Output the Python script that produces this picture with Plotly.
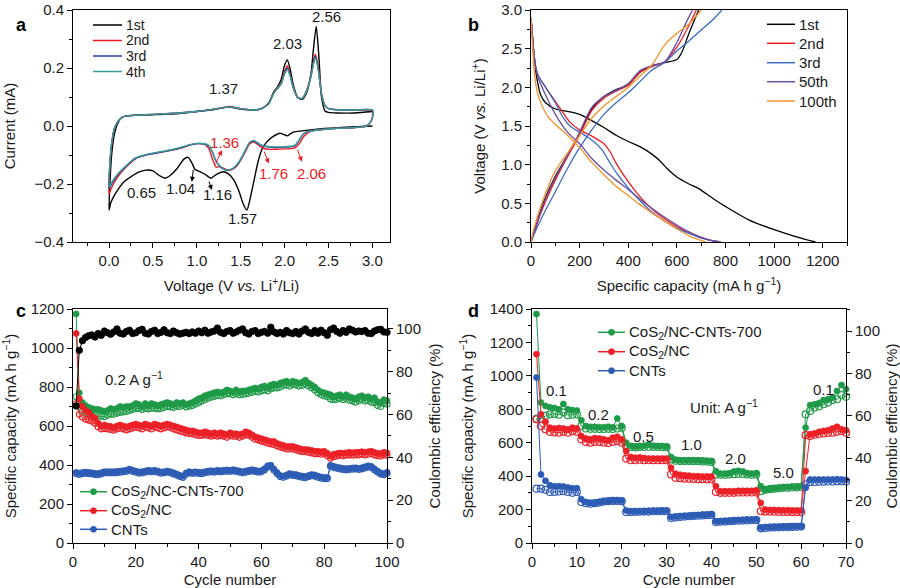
import plotly.graph_objects as go

# ---------------- Panel a: CV curves ----------------
cv1_v = [3.0, 2.7, 2.4, 2.2, 2.1, 2.06, 2.03, 1.95, 1.85, 1.8, 1.75, 1.7, 1.65, 1.6, 1.57, 1.53, 1.48, 1.42, 1.36, 1.3,
         1.22, 1.16, 1.1, 1.04, 0.98, 0.94, 0.9, 0.85, 0.78, 0.7, 0.64, 0.58, 0.5, 0.42, 0.33, 0.25, 0.18, 0.1, 0.05, 0.02, 0.0,
         0.01, 0.03, 0.06, 0.1, 0.15, 0.2, 0.3, 0.5, 0.8, 1.0, 1.2, 1.37, 1.5, 1.65, 1.75, 1.82, 1.88, 1.92, 1.96, 2.0,
         2.03, 2.06, 2.1, 2.15, 2.2, 2.25, 2.3, 2.33, 2.36, 2.39, 2.42, 2.46, 2.5, 2.6, 2.8, 3.0]
cv1_i = [0.0, -0.004, -0.01, -0.017, -0.021, -0.028, -0.034, -0.025, -0.04, -0.054, -0.075, -0.12, -0.19, -0.26, -0.29, -0.27,
         -0.225, -0.186, -0.165, -0.158, -0.168, -0.18, -0.168, -0.158, -0.15, -0.125, -0.108, -0.115, -0.145, -0.17, -0.18,
         -0.172, -0.155, -0.152, -0.16, -0.175, -0.19, -0.22, -0.245, -0.265, -0.29,
         -0.2, -0.1, -0.03, 0.01, 0.03, 0.035, 0.037, 0.039, 0.043, 0.05, 0.057, 0.065, 0.058, 0.055, 0.062, 0.08, 0.12, 0.135,
         0.16, 0.21, 0.228, 0.2, 0.14, 0.098, 0.092, 0.115, 0.18, 0.27, 0.343, 0.24, 0.1, 0.052, 0.047, 0.045, 0.045, 0.05]

cv_v = [3.0, 3.0, 2.97, 2.93, 2.88, 2.8, 2.6, 2.4, 2.3, 2.22, 2.17, 2.13, 2.1, 2.06, 2.0, 1.9, 1.8, 1.72, 1.65, 1.6, 1.55,
        1.5, 1.45, 1.4, 1.36, 1.32, 1.27, 1.22, 1.18, 1.14, 1.1, 1.0, 0.9, 0.8, 0.6, 0.45, 0.3, 0.2, 0.1, 0.05, 0.02, 0.0,
        0.01, 0.03, 0.06, 0.1, 0.15, 0.2, 0.3, 0.5, 0.8, 1.0, 1.2, 1.37, 1.5, 1.65, 1.75, 1.82, 1.88, 1.92, 1.96, 2.0,
        2.03, 2.06, 2.1, 2.15, 2.2, 2.25, 2.3, 2.33, 2.35, 2.38, 2.42, 2.46, 2.5, 2.6, 2.8, 3.0]
cv2_i = [0.055, 0.03, 0.01, 0.0, -0.003, -0.005, -0.008, -0.013, -0.018, -0.035, -0.06, -0.072, -0.077, -0.078, -0.079,
         -0.08, -0.08, -0.07, -0.055, -0.062, -0.09, -0.118, -0.14, -0.15, -0.152, -0.148, -0.14, -0.142, -0.115, -0.08,
         -0.065, -0.06, -0.068, -0.078, -0.09, -0.098, -0.113, -0.14, -0.175, -0.2, -0.22, -0.235,
         -0.14, -0.065, -0.012, 0.015, 0.03, 0.035, 0.037, 0.04, 0.045, 0.05, 0.058, 0.067, 0.06, 0.055, 0.062, 0.078,
         0.117, 0.132, 0.148, 0.19, 0.208, 0.182, 0.132, 0.098, 0.095, 0.122, 0.175, 0.225, 0.248, 0.21, 0.112, 0.07,
         0.06, 0.056, 0.055, 0.056]
cv3_i = [0.055, 0.03, 0.01, 0.0, -0.003, -0.005, -0.008, -0.013, -0.017, -0.026, -0.047, -0.065, -0.07, -0.072, -0.073,
         -0.074, -0.072, -0.065, -0.052, -0.058, -0.087, -0.115, -0.137, -0.149, -0.153, -0.151, -0.142, -0.122, -0.092,
         -0.07, -0.063, -0.061, -0.067, -0.077, -0.09, -0.098, -0.112, -0.138, -0.168, -0.19, -0.205, -0.215,
         -0.132, -0.06, -0.01, 0.015, 0.03, 0.035, 0.037, 0.04, 0.045, 0.05, 0.058, 0.066, 0.06, 0.055, 0.062, 0.078,
         0.115, 0.13, 0.145, 0.183, 0.2, 0.178, 0.13, 0.097, 0.095, 0.12, 0.172, 0.22, 0.24, 0.203, 0.11, 0.07,
         0.06, 0.056, 0.055, 0.055]
cv4_i = [0.055, 0.03, 0.01, 0.0, -0.003, -0.005, -0.008, -0.013, -0.017, -0.025, -0.045, -0.063, -0.068, -0.07, -0.071,
         -0.072, -0.07, -0.063, -0.05, -0.057, -0.085, -0.113, -0.135, -0.148, -0.152, -0.15, -0.14, -0.12, -0.09,
         -0.068, -0.062, -0.06, -0.066, -0.075, -0.088, -0.096, -0.11, -0.135, -0.165, -0.185, -0.2, -0.21,
         -0.13, -0.06, -0.01, 0.015, 0.03, 0.035, 0.037, 0.04, 0.045, 0.05, 0.058, 0.066, 0.06, 0.055, 0.062, 0.078,
         0.115, 0.13, 0.145, 0.18, 0.195, 0.175, 0.13, 0.097, 0.095, 0.12, 0.17, 0.215, 0.235, 0.2, 0.11, 0.07,
         0.06, 0.056, 0.055, 0.055]
cv_names = ["1st", "2nd", "3rd", "4th"]

# ---------------- Panel b: charge / discharge ----------------
b1_dis_c = [0, 5, 10, 18, 25, 40, 60, 100, 150, 200, 250, 300, 350, 400, 450, 500, 530, 560, 600, 650, 690, 750, 800, 900, 1000, 1100, 1170]
b1_dis_v = [2.9, 2.7, 2.5, 2.25, 2.1, 1.9, 1.8, 1.72, 1.69, 1.65, 1.57, 1.48, 1.38, 1.3, 1.23, 1.13, 1.05, 0.95, 0.84, 0.75, 0.69, 0.56, 0.46, 0.28, 0.16, 0.06, 0.0]
b1_ch_c = [0, 10, 50, 100, 150, 200, 250, 300, 350, 400, 450, 500, 550, 600, 620, 650, 690]
b1_ch_v = [0.0, 0.1, 0.5, 0.85, 1.12, 1.4, 1.72, 1.88, 1.97, 2.03, 2.2, 2.28, 2.32, 2.36, 2.45, 2.7, 3.0]
b2_dis_c = [0, 5, 10, 20, 30, 60, 100, 130, 160, 200, 250, 300, 325, 350, 400, 450, 500, 550, 600, 650, 700, 740, 780]
b2_dis_v = [2.9, 2.7, 2.5, 2.25, 2.15, 2.0, 1.82, 1.68, 1.55, 1.45, 1.37, 1.27, 1.17, 1.02, 0.78, 0.58, 0.42, 0.3, 0.2, 0.12, 0.06, 0.02, 0.0]
b2_ch_c = [0, 10, 50, 100, 150, 200, 250, 300, 350, 400, 450, 500, 550, 600, 650, 680]
b2_ch_v = [0.0, 0.1, 0.45, 0.8, 1.1, 1.38, 1.7, 1.86, 1.95, 2.03, 2.2, 2.27, 2.33, 2.52, 2.8, 3.0]
b3_dis_c = [0, 5, 10, 20, 30, 60, 100, 130, 160, 200, 250, 290, 320, 350, 400, 450, 500, 550, 600, 650, 700, 740, 780]
b3_dis_v = [2.9, 2.7, 2.5, 2.25, 2.15, 2.0, 1.8, 1.62, 1.5, 1.42, 1.32, 1.2, 1.05, 0.9, 0.7, 0.53, 0.38, 0.27, 0.18, 0.11, 0.05, 0.02, 0.0]
b3_ch_c = [0, 10, 50, 100, 150, 200, 250, 300, 350, 400, 450, 500, 550, 600, 650, 700, 750, 785]
b3_ch_v = [0.0, 0.08, 0.35, 0.65, 0.95, 1.22, 1.45, 1.65, 1.8, 1.93, 2.08, 2.23, 2.32, 2.47, 2.6, 2.74, 2.88, 3.0]
b50_dis_c = [0, 5, 10, 20, 30, 60, 100, 150, 200, 250, 300, 350, 400, 450, 500, 550, 600, 650, 700, 740, 780]
b50_dis_v = [2.9, 2.7, 2.5, 2.25, 2.12, 1.9, 1.65, 1.42, 1.27, 1.08, 0.93, 0.8, 0.68, 0.55, 0.43, 0.32, 0.22, 0.13, 0.06, 0.02, 0.0]
b50_ch_c = [0, 10, 50, 100, 150, 200, 250, 300, 350, 400, 450, 500, 550, 600, 640, 665]
b50_ch_v = [0.0, 0.1, 0.48, 0.83, 1.12, 1.42, 1.74, 1.88, 1.96, 2.05, 2.22, 2.28, 2.33, 2.58, 2.85, 3.0]
b100_dis_c = [0, 5, 10, 15, 25, 40, 70, 100, 150, 200, 250, 300, 350, 400, 450, 500, 550, 600, 650, 690, 720]
b100_dis_v = [2.9, 2.6, 2.35, 2.15, 1.95, 1.8, 1.62, 1.52, 1.38, 1.22, 1.03, 0.87, 0.72, 0.6, 0.48, 0.37, 0.27, 0.17, 0.08, 0.03, 0.0]
b100_ch_c = [0, 10, 50, 100, 150, 200, 250, 300, 350, 400, 450, 500, 550, 600, 650, 700]
b100_ch_v = [0.0, 0.15, 0.55, 0.92, 1.15, 1.38, 1.6, 1.76, 1.88, 2.0, 2.15, 2.3, 2.55, 2.7, 2.82, 3.0]
b_names = ["1st", "2nd", "3rd", "50th", "100th"]

# ---------------- Panel c: cycling at 0.2 A/g ----------------
c_cycles = list(range(1, 101))
c_green_dis = [1175, 770, 720, 705, 695, 690, 685, 685, 680, 675, 680, 690, 685, 690, 700, 695, 700, 700, 705, 715,
               710, 700, 715, 705, 715, 710, 705, 710, 715, 720, 715, 710, 720, 715, 720, 710, 715, 720, 730, 740,
               745, 755, 760, 765, 770, 775, 770, 775, 785, 780, 775, 785, 775, 780, 780, 785, 790, 795, 790, 800,
               805, 795, 810, 815, 810, 820, 825, 830, 820, 830, 825, 820, 825, 835, 820, 810, 800, 785, 775, 770,
               765, 760, 750, 755, 760, 750, 760, 750, 745, 740, 750, 755, 745, 750, 740, 745, 725, 720, 735, 730]
c_green_ch = [750, 700, 675, 665, 660, 655, 655, 650, 650, 648, 655, 660, 660, 665, 670, 672, 675, 680, 685, 690,
              690, 685, 690, 688, 692, 690, 688, 690, 695, 700, 698, 695, 700, 700, 705, 698, 702, 705, 712, 720,
              728, 735, 742, 748, 752, 758, 755, 760, 765, 765, 760, 765, 760, 762, 765, 768, 772, 778, 775, 780,
              785, 780, 790, 795, 795, 800, 808, 810, 805, 812, 810, 805, 808, 815, 805, 795, 785, 770, 760, 755,
              750, 738, 735, 738, 742, 735, 740, 732, 728, 722, 730, 735, 728, 730, 722, 720, 705, 700, 715, 712]
c_red_dis = [1075, 740, 700, 680, 670, 650, 640, 615, 600, 605, 600, 598, 590, 600, 605, 600, 595, 600, 605, 610,
             605, 600, 610, 605, 600, 610, 605, 600, 605, 610, 605, 600, 595, 590, 585, 580, 575, 575, 570, 565,
             565, 570, 565, 560, 565, 560, 565, 560, 555, 565, 560, 560, 555, 560, 570, 565, 555, 545, 540, 535,
             530, 525, 520, 520, 510, 505, 500, 495, 495, 495, 490, 485, 480, 480, 478, 475, 470, 470, 468, 470,
             460, 445, 455, 458, 462, 460, 462, 465, 462, 465, 465, 468, 465, 468, 470, 465, 460, 458, 465, 462]
c_red_ch = [715, 660, 645, 635, 630, 625, 615, 595, 585, 588, 585, 582, 578, 585, 590, 585, 580, 585, 590, 595,
            590, 585, 595, 590, 585, 595, 590, 585, 590, 595, 592, 585, 580, 575, 570, 565, 562, 560, 555, 552,
            552, 556, 552, 548, 552, 548, 552, 548, 542, 550, 548, 548, 542, 548, 555, 552, 542, 532, 528, 522,
            518, 512, 508, 505, 498, 492, 488, 482, 482, 482, 478, 472, 468, 468, 465, 462, 458, 458, 455, 458,
            448, 435, 443, 446, 450, 448, 450, 452, 450, 452, 452, 455, 452, 455, 458, 452, 448, 446, 452, 450]
c_blue_dis = [362, 358, 362, 364, 362, 360, 357, 356, 360, 366, 366, 366, 366, 367, 369, 371, 373, 379, 373, 369,
              364, 366, 369, 373, 371, 373, 369, 364, 366, 369, 366, 360, 354, 347, 342, 359, 366, 363, 365, 363,
              362, 366, 369, 371, 369, 373, 371, 373, 375, 373, 376, 373, 369, 366, 369, 373, 376, 373, 369, 371,
              381, 396, 399, 379, 361, 346, 343, 349, 356, 353, 351, 346, 343, 341, 346, 351, 349, 343, 339, 336,
              336, 399, 393, 389, 386, 383, 381, 383, 385, 386, 383, 386, 391, 396, 393, 381, 369, 359, 356, 363]
c_blue_ch = [355, 352, 356, 358, 356, 354, 351, 350, 354, 360, 360, 360, 360, 361, 363, 365, 367, 373, 367, 363,
             358, 360, 363, 367, 365, 367, 363, 358, 360, 363, 360, 354, 348, 341, 336, 353, 360, 357, 359, 357,
             356, 360, 363, 365, 363, 367, 365, 367, 369, 367, 370, 367, 363, 360, 363, 367, 370, 367, 363, 365,
             375, 390, 393, 373, 355, 340, 337, 343, 350, 347, 345, 340, 337, 335, 340, 345, 343, 337, 333, 330,
             330, 393, 387, 383, 380, 377, 375, 377, 379, 380, 377, 380, 385, 390, 387, 375, 363, 353, 350, 357]
c_ce = [64.0, 90.0, 94.5, 96.0, 96.8, 97.2, 96.2, 97.8, 97.0, 99.0, 98.2, 97.5, 98.6, 100.0, 98.0, 97.6, 98.8, 99.4, 97.8, 98.2,
        99.2, 99.8, 98.0, 97.6, 98.8, 99.4, 97.8, 98.4, 99.6, 98.2, 97.8, 99.0, 98.2, 97.6, 98.0, 98.4, 97.8, 98.6, 98.0, 99.0,
        98.2, 99.4, 98.0, 98.6, 99.0, 100.4, 98.4, 97.8, 98.8, 99.2, 98.0, 98.6, 99.4, 100.0, 98.2, 97.6, 98.8, 99.2, 97.8, 98.4,
        98.8, 98.0, 100.8, 98.6, 97.8, 98.4, 97.6, 99.2, 98.2, 97.8, 98.8, 97.6, 99.0, 100.0, 98.4, 97.8, 99.2, 98.0, 99.4, 98.2,
        97.0, 99.6, 100.4, 98.8, 98.0, 99.2, 98.4, 100.0, 99.4, 98.6, 99.0, 98.8, 99.2, 98.0, 97.8, 99.0, 99.6, 99.8, 98.6, 98.4]

# ---------------- Panel d: rate capability ----------------
d_cycles = list(range(1, 71))
d_green_dis = [1370, 840, 820, 812, 808, 800, 832, 800, 795, 792, 735, 700, 695, 695, 693, 693, 695, 692, 745, 700,
               600, 580, 578, 580, 582, 590, 582, 580, 580, 578, 515, 498, 495, 495, 495, 495, 495, 493, 492, 490,
               430, 415, 415, 418, 428, 432, 428, 418, 415, 418, 340, 320, 325, 328, 330, 333, 335, 338, 338, 340,
               690, 825, 830, 838, 855, 860, 872, 910, 945, 920]
d_green_ch = [745, 745, 760, 770, 772, 768, 782, 765, 768, 770, 700, 685, 683, 683, 682, 682, 683, 682, 685, 690,
              580, 575, 572, 575, 575, 576, 575, 575, 574, 573, 500, 492, 490, 490, 490, 490, 489, 488, 487, 485,
              410, 408, 408, 410, 412, 414, 413, 410, 408, 410, 310, 318, 322, 325, 327, 330, 330, 332, 333, 335,
              770, 790, 810, 818, 830, 840, 855, 860, 885, 875]
d_red_dis = [1130, 770, 725, 690, 685, 688, 685, 680, 690, 685, 640, 625, 620, 628, 625, 620, 615, 630, 635, 620,
             550, 515, 510, 512, 508, 505, 505, 505, 505, 505, 450, 415, 408, 405, 403, 400, 400, 398, 398, 398,
             340, 310, 310, 310, 310, 312, 312, 312, 312, 315, 240, 200, 198, 198, 197, 196, 196, 195, 195, 195,
             430, 650, 655, 665, 670, 675, 685, 695, 680, 675]
d_red_ch = [740, 700, 680, 665, 662, 660, 665, 660, 668, 665, 620, 605, 600, 605, 605, 600, 598, 605, 610, 600,
            505, 495, 495, 498, 495, 495, 495, 495, 495, 495, 410, 390, 388, 385, 385, 383, 382, 382, 381, 380,
            305, 300, 300, 300, 300, 302, 302, 302, 302, 302, 190, 188, 188, 187, 187, 186, 186, 185, 185, 185,
            645, 640, 648, 652, 655, 658, 660, 665, 670, 660]
d_blue_dis = [990, 410, 372, 345, 340, 340, 338, 332, 328, 328, 262, 245, 240, 240, 245, 250, 252, 255, 255, 255,
              195, 190, 190, 190, 190, 192, 193, 193, 195, 195, 155, 158, 160, 162, 163, 165, 167, 168, 170, 172,
              130, 130, 132, 133, 135, 137, 138, 140, 140, 142, 92, 95, 95, 96, 97, 98, 98, 99, 100, 100,
              330, 380, 380, 380, 380, 380, 380, 382, 380, 378]
d_blue_ch = [325, 325, 318, 305, 305, 308, 310, 305, 300, 305, 245, 238, 235, 238, 242, 248, 250, 252, 252, 250,
             185, 185, 186, 187, 188, 188, 190, 190, 190, 190, 150, 153, 156, 158, 160, 162, 163, 165, 166, 168,
             125, 127, 128, 130, 132, 133, 134, 135, 136, 137, 88, 90, 92, 93, 94, 95, 95, 96, 97, 98,
             350, 365, 365, 366, 367, 368, 368, 370, 370, 368]
sample_names = ["CoS<sub>2</sub>/NC-CNTs-700", "CoS<sub>2</sub>/NC", "CNTs"]

# ---------------- styles ----------------
FONT = "Liberation Sans, Arial, sans-serif"
TXT = "#1a1a1a"
FS = 15
a_colors = ["#000000", "#ed1c24", "#2b3f9e", "#3a9c96"]
b_colors = ["#000000", "#ed1c24", "#3b6cc4", "#6a4ea0", "#f5932b"]
s_colors = ["#1f9a48", "#ec2027", "#2d5cb5"]
W, H = 900, 588

fig = go.Figure()

# Panel a traces
for name, ii, col in zip(cv_names, [cv1_i, cv2_i, cv3_i, cv4_i], a_colors):
    vv = cv1_v if name == "1st" else cv_v
    fig.add_trace(go.Scatter(x=vv, y=ii, mode="lines", name=name, showlegend=False,
                             line=dict(color=col, width=1.4, shape="spline", smoothing=0.6),
                             xaxis="x", yaxis="y"))

# Panel b traces
b_sets = [(b1_dis_c, b1_dis_v, b1_ch_c, b1_ch_v), (b2_dis_c, b2_dis_v, b2_ch_c, b2_ch_v),
          (b3_dis_c, b3_dis_v, b3_ch_c, b3_ch_v), (b50_dis_c, b50_dis_v, b50_ch_c, b50_ch_v),
          (b100_dis_c, b100_dis_v, b100_ch_c, b100_ch_v)]
for name, (dc, dv, cc, cvv), col in zip(b_names, b_sets, b_colors):
    for xs, ys in [(dc, dv), (cc, cvv)]:
        fig.add_trace(go.Scatter(x=xs, y=ys, mode="lines", name=name, showlegend=False,
                                 line=dict(color=col, width=1.3, shape="spline", smoothing=0.8),
                                 xaxis="x2", yaxis="y2"))

# Panel c traces
for name, dis, ch, col in zip(sample_names, [c_green_dis, c_red_dis, c_blue_dis], [c_green_ch, c_red_ch, c_blue_ch], s_colors):
    fig.add_trace(go.Scatter(x=c_cycles, y=ch, mode="lines+markers", showlegend=False, cliponaxis=False,
                             line=dict(color=col, width=1),
                             marker=dict(symbol="circle-open", size=6, color=col, line=dict(width=1.2, color=col)),
                             xaxis="x3", yaxis="y3"))
    fig.add_trace(go.Scatter(x=c_cycles, y=dis, mode="lines+markers", name=name, showlegend=False, cliponaxis=False,
                             line=dict(color=col, width=1),
                             marker=dict(symbol="circle", size=6, color=col, line=dict(width=0.8, color=col)),
                             xaxis="x3", yaxis="y3"))
fig.add_trace(go.Scatter(x=c_cycles, y=c_ce, mode="lines+markers", showlegend=False, cliponaxis=False,
                         line=dict(color="#000000", width=1),
                         marker=dict(symbol="circle", size=6.5, color="#000000", line=dict(width=0.8, color="#000000")),
                         xaxis="x3", yaxis="y5"))

# Panel d traces
for name, dis, ch, col in zip(sample_names, [d_green_dis, d_red_dis, d_blue_dis], [d_green_ch, d_red_ch, d_blue_ch], s_colors):
    fig.add_trace(go.Scatter(x=d_cycles, y=ch, mode="lines+markers", showlegend=False, cliponaxis=False,
                             line=dict(color=col, width=1),
                             marker=dict(symbol="circle-open", size=7, color=col, line=dict(width=1.2, color=col)),
                             xaxis="x4", yaxis="y4"))
    fig.add_trace(go.Scatter(x=d_cycles, y=dis, mode="lines+markers", name=name, showlegend=False, cliponaxis=False,
                             line=dict(color=col, width=1),
                             marker=dict(symbol="circle", size=6, color=col, line=dict(width=0.8, color=col)),
                             xaxis="x4", yaxis="y4"))
fig.add_trace(go.Scatter(x=[None], y=[None], mode="markers", showlegend=False, xaxis="x4", yaxis="y6"))


def ax(domain, rng, dtick, minor, title, standoff, fmt=None, anchor=None, **kw):
    d = dict(domain=domain, range=rng, dtick=dtick, tick0=0, showgrid=False, zeroline=False, automargin=False,
             showline=True, linecolor="#000", linewidth=1, mirror=True,
             ticks="outside", ticklen=5, tickwidth=1, tickcolor="#000",
             minor=dict(ticks="outside", ticklen=3, dtick=minor, tick0=0, tickcolor="#000", showgrid=False),
             tickfont=dict(family=FONT, size=FS, color=TXT),
             title=dict(text=title, standoff=standoff, font=dict(family=FONT, size=FS, color=TXT)))
    if fmt:
        d["tickformat"] = fmt
    if anchor:
        d["anchor"] = anchor
    d.update(kw)
    return d


def xd(a, b):
    return [a / W, b / W]


def yd(top, bot):
    return [1 - bot / H, 1 - top / H]


fig.update_layout(
    width=W, height=H, margin=dict(l=0, r=0, t=0, b=0), showlegend=False,
    paper_bgcolor="white", plot_bgcolor="white",
    font=dict(family=FONT, size=FS, color=TXT),
    xaxis=ax(xd(73, 390), [-0.41, 3.2], 0.5, 0.25, "Voltage (V <i>vs.</i> Li<sup>+</sup>/Li)", 12, ".1f", "y"),
    yaxis=ax(yd(10, 242), [-0.4, 0.4], 0.2, 0.1, "Current (mA)", 15, ".1f", "x"),
    xaxis2=ax(xd(531, 847), [0, 1300], 200, 100, "Specific capacity (mA h g<sup>−1</sup>)", 12, None, "y2"),
    yaxis2=ax(yd(10, 242), [0, 3.0], 0.5, 0.25, "Voltage (V <i>vs.</i> Li/Li<sup>+</sup>)", 11, ".1f", "x2"),
    xaxis3=ax(xd(73, 387), [0, 100], 20, 10, "Cycle number", 6, None, "y3"),
    yaxis3=ax(yd(309, 543), [0, 1200], 200, 100, "Specific capacity (mA h g<sup>−1</sup>)", 12, None, "x3"),
    yaxis5=ax(yd(309, 543), [0, 109.3], 20, 10, "Coulombic efficiency (%)", 9, None, "x3",
              overlaying="y3", side="right"),
    xaxis4=ax(xd(532, 846), [0, 70], 10, 5, "Cycle number", 6, None, "y4"),
    yaxis4=ax(yd(309, 543), [0, 1400], 200, 100, "Specific capacity (mA h g<sup>−1</sup>)", 12, None, "x4"),
    yaxis6=ax(yd(309, 543), [0, 110.4], 20, 10, "Coulombic efficiency (%)", 7, None, "x4",
              overlaying="y4", side="right"),
)

# ---- legends (keys drawn in paper pixels) ----
def legend_block(names, colors, x0, x1, xt, rows, marker=False, fs=FS):
    for name, col, yy in zip(names, colors, rows):
        fig.add_shape(type="line", xref="paper", yref="paper", x0=x0 / W, x1=x1 / W, y0=1 - yy / H, y1=1 - yy / H,
                      line=dict(color=col, width=1.5))
        if marker:
            cx = (x0 + x1) / 2
            fig.add_shape(type="circle", xref="paper", yref="paper", x0=(cx - 3) / W, x1=(cx + 3) / W,
                          y0=1 - (yy + 3) / H, y1=1 - (yy - 3) / H, fillcolor=col, line=dict(color=col, width=0.8))
        fig.add_annotation(text=name, x=xt / W, y=1 - yy / H, xref="paper", yref="paper", xanchor="left",
                           yanchor="middle", showarrow=False, font=dict(family=FONT, size=fs, color=TXT))


legend_block(cv_names, a_colors, 93, 122, 124, [25, 40.5, 56, 71.5], fs=14)
legend_block(b_names, b_colors, 767, 795, 797, [24.3, 43.3, 62.7, 81.7, 101])
legend_block(sample_names, s_colors, 80, 107, 109, [491.7, 510.7, 529.3], marker=True)
legend_block(sample_names, s_colors, 598, 625, 627, [332.3, 351.7, 370.7], marker=True)

# panel letters
for letter, px, py in [("a", 14, 13), ("b", 473, 13), ("c", 14, 311), ("d", 473, 311)]:
    fig.add_annotation(text="<b>%s</b>" % letter, x=px / W, y=1 - py / H, xref="paper", yref="paper",
                       showarrow=False, font=dict(family=FONT, size=18, color="#000"))

# panel a labels
RED = "#ed1c24"
a_labels = [("1.37", 1.30, 0.128, TXT), ("2.03", 2.03, 0.286, TXT), ("2.56", 2.48, 0.376, TXT),
            ("0.65", 0.37, -0.231, TXT), ("1.04", 0.81, -0.215, TXT), ("1.16", 1.23, -0.235, TXT),
            ("1.57", 1.52, -0.32, TXT), ("1.36", 1.32, -0.058, RED), ("1.76", 1.87, -0.163, RED),
            ("2.06", 2.31, -0.163, RED)]
for t, x, y, c in a_labels:
    fig.add_annotation(text=t, x=x, y=y, xref="x", yref="y", showarrow=False,
                       font=dict(family=FONT, size=FS, color=c))
a_arrows = [((1.285, -0.083), (1.209, -0.134), RED), ((1.82, -0.129), (1.76, -0.083), RED),
            ((2.197, -0.123), (2.14, -0.077), RED), ((0.943, -0.192), (0.962, -0.146), "#000"),
            ((1.171, -0.221), (1.133, -0.186), "#000")]
for (hx, hy), (tx, ty), c in a_arrows:
    fig.add_annotation(text="", x=hx, y=hy, ax=tx, ay=ty, xref="x", yref="y", axref="x", ayref="y",
                       showarrow=True, arrowhead=2, arrowsize=1, arrowwidth=1, arrowcolor=c)

# panel c label
fig.add_annotation(text="0.2 A g<sup>−1</sup>", x=19.3, y=846, xref="x3", yref="y3", showarrow=False,
                   font=dict(family=FONT, size=FS, color=TXT))
# panel d labels
d_labels = [("0.1", 5.5, 915), ("0.2", 14.8, 766), ("0.5", 24.8, 636), ("1.0", 35.6, 592), ("2.0", 45.3, 507),
            ("5.0", 56.0, 421), ("0.1", 65.0, 920), ("Unit: A g<sup>−1</sup>", 42.8, 815)]
for t, x, y in d_labels:
    fig.add_annotation(text=t, x=x, y=y, xref="x4", yref="y4", showarrow=False,
                       font=dict(family=FONT, size=FS, color=TXT))

fig.write_html("out.html", config={"displayModeBar": False},
               post_script="document.body.style.margin='0px';document.body.style.padding='0px';")
